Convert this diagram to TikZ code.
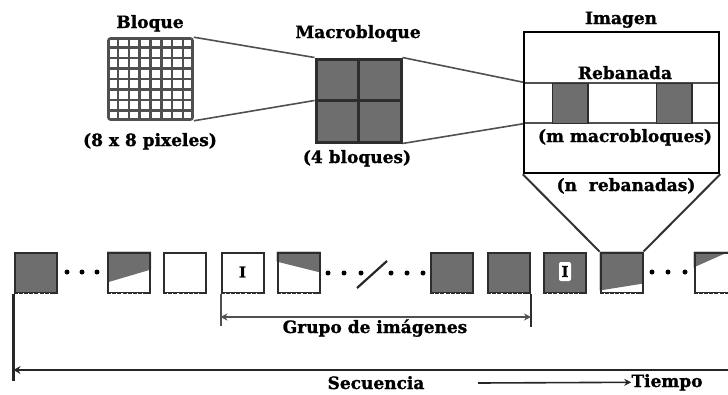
\documentclass[tikz,border=0pt]{standalone}
\usepackage{fontspec}
\setmainfont[BoldFeatures={FakeBold=1.2}]{DejaVu Serif}
\usetikzlibrary{calc,arrows.meta,backgrounds}
\definecolor{fgray}{RGB}{110,110,110}
\definecolor{edge}{RGB}{45,45,45}
\definecolor{gline}{RGB}{80,80,80}
\begin{document}
\begin{tikzpicture}[x=1pt,y=-1pt,
  lbl/.style={font=\fontsize{17}{20}\selectfont\bfseries, inner sep=0pt, anchor=base},
  frm/.style={draw=edge, line width=2pt, minimum width=42pt, minimum height=40pt, inner sep=0pt},
  gfrm/.style={frm, fill=fgray},
  conn/.style={draw=gline, line width=1.6pt},
  bracket/.style={draw=gline, line width=2pt},
  seqline/.style={draw=black!85, line width=2.5pt},
  dotmark/.style={circle, fill=black, inner sep=0pt, minimum size=5pt},
  gridline/.style={draw=gline, line width=2.4pt},
  ichar/.style={font=\fontsize{15}{15}\selectfont\bfseries, inner sep=0pt},
  ticks/.style={draw=white, line width=1pt, dash pattern=on 1.2pt off 4pt}
]
\useasboundingbox (0,0) rectangle (728,394);
\clip (0,0) rectangle (728,394);

% ---------- Bloque (8x8 grid)
\node[draw=gline, line width=2.6pt, rounded corners=2pt, minimum width=84pt, minimum height=81pt, inner sep=0pt] (bloque) at (150.5,79) {};
\foreach \i in {1,...,7}{
  \draw[gridline] ($(bloque.north west)!\i/8!(bloque.north east)$) -- ($(bloque.south west)!\i/8!(bloque.south east)$);
  \draw[gridline] ($(bloque.north west)!\i/8!(bloque.south west)$) -- ($(bloque.north east)!\i/8!(bloque.south east)$);
}
\node[lbl] (tBloque) at (150,28) {Bloque};
\node[lbl] (tBsize) at (150,146) {(8 x 8 pixeles)};

% ---------- Macrobloque
\node[draw=edge, line width=3pt, fill=fgray, minimum width=85pt, minimum height=83pt, inner sep=0pt] (macro) at (358.5,100.5) {};
\draw[edge, line width=2.5pt] (macro.north) -- (macro.south);
\draw[edge, line width=2.5pt] (macro.west) -- (macro.east);
\node[lbl] (tMacro) at (358,38) {Macrobloque};
\node[lbl] (tMsize) at (357,163) {(4 bloques)};

% ---------- Imagen
\node[draw=gline, line width=1.5pt, minimum width=195pt, minimum height=40pt, inner sep=0pt] (slice) at (621.5,103) {};
\node[draw=edge, line width=1pt, fill=fgray, minimum width=35pt, minimum height=40pt, inner sep=0pt] (mb1) at (569.5,103) {};
\node[draw=edge, line width=1pt, fill=fgray, minimum width=35pt, minimum height=40pt, inner sep=0pt] (mb2) at (673.5,103) {};
\draw[edge, line width=2pt] (mb1.north east) -- (mb1.south east);
\draw[edge, line width=2pt] (mb2.north east) -- (mb2.south east);
\node[draw=black, line width=2.5pt, minimum width=195pt, minimum height=141pt, inner sep=0pt] (imagen) at (621.5,102.5) {};
\node[lbl] (tImagen) at (621,24) {Imagen};
\node[lbl] (tReb) at (625,79) {Rebanada};
\node[lbl] (tM) at (625,142) {(m macrobloques)};
\node[lbl] (tN) at (626,191) {(n\ \ rebanadas)};

% ---------- connectors between levels
\draw[conn] (bloque.north east) -- (macro.north west);
\draw[conn] (bloque.south east) -- (macro.west);
\draw[conn] (macro.north east) -- (slice.north west);
\draw[conn] (macro.south east) -- (slice.south west);

% ---------- frames
\node[gfrm] (f1) at (35.5,272.5) {};
\node[frm] (f2) at (129,272.5) {};
\node[frm] (f3) at (185,272.5) {};
\node[frm] (f4) at (242.5,272.5) {};
\node[frm] (f5) at (298.5,272.5) {};
\node[gfrm] (f6) at (452,272.5) {};
\node[gfrm] (f7) at (509,272.5) {};
\node[gfrm] (f8) at (565,272.5) {};
\node[frm] (f9) at (621.5,272.5) {};
\node[frm] (f10) at (715.5,272.5) {};

\begin{scope}[on background layer]
  \fill[fgray] (f2.north west) -- (f2.north east) -- ($(f2.north east)+(0,18)$) -- ($(f2.north west)+(0,31)$) -- cycle;
  \fill[fgray] (f5.north west) -- (f5.north east) -- ($(f5.north east)+(0,21)$) -- ($(f5.north west)+(0,10)$) -- cycle;
  \fill[fgray] (f9.north west) -- (f9.north east) -- ($(f9.south east)+(0,-10)$) -- ($(f9.south west)+(0,-3)$) -- cycle;
  \fill[fgray] (f10.north west) -- ($(f10.north west)+(36,0)$) -- ($(f10.north west)+(0,16)$) -- cycle;
\end{scope}

% dotted inner edge texture of the frames
\foreach \f in {f1,f2,f3,f4,f5,f6,f7,f8,f9,f10}{
  \draw[ticks] ($(\f.south west)+(4,0)$) -- ($(\f.south east)+(-4,0)$);
}

\node[ichar] (i4) at (242.5,272) {I};
\node[ichar, fill=white, rounded corners=2pt, minimum width=12pt, minimum height=19pt] (i8) at (565,271.5) {I};

% funnel
\draw[conn, draw=black!80, line width=2pt] (imagen.south west) -- (f9.north west);
\draw[conn, draw=black!80, line width=2pt] (imagen.south east) -- (f9.north east);

% dots
\foreach \x [count=\k] in {67,82,97}{\node[dotmark] (da\k) at (\x,272) {};}
\foreach \x [count=\k] in {328,344,361,391,407,423}{\node[dotmark] (db\k) at (\x,273) {};}
\foreach \x [count=\k] in {652,668,685}{\node[dotmark] (dc\k) at (\x,272) {};}
\draw[line width=2.2pt, black!85] (357,288) -- (387,261);

% ---------- Grupo de imagenes
\coordinate (gy) at (0,317);
\coordinate (gopL) at (f4.south west |- gy);
\coordinate (gopR) at (f7.south east |- gy);
\draw[bracket] (f4.south west) -- ++(0,32);
\draw[bracket, draw=edge, line width=2.5pt] (f7.south east) -- ++(0,33);
\draw[bracket, {Stealth[length=7pt,width=7pt]}-{Stealth[length=7pt,width=7pt]}] (gopL) -- (gopR);
\node[lbl] (tGOP) at (375,333) {Grupo de imágenes};

% ---------- Secuencia
\coordinate (sy) at (0,370);
\coordinate (seqL) at (f1.south west |- sy);
\coordinate (seqR) at (740,370);
\draw[seqline] (f1.south west) -- ++(0,87);
\draw[seqline, {Stealth[length=7pt,width=8pt]}-] (seqL) -- (seqR);
\node[lbl] (tSeq) at (376,389) {Secuencia};
\node[lbl] (tTiempo) at (667,387) {Tiempo};
\coordinate (ta) at (478,383);
\draw[line width=1.6pt, black!85, -{Stealth[length=7pt,width=7pt]}] (ta) -- (tTiempo.west);

\end{tikzpicture}
\end{document}
